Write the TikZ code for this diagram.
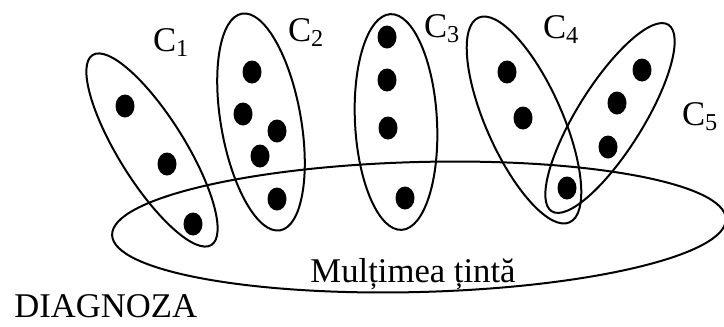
\documentclass[tikz,border=0pt]{standalone}
\usepackage{fontspec}
\setmainfont{Liberation Serif}
\usepackage{tikz}

\tikzset{
  clus/.style={line width=1.5pt},
  dotmark/.style={fill=black},
  lbl/.style={inner sep=0pt, font=\fontsize{26}{30}\selectfont}
}

\begin{document}
\begin{tikzpicture}[x=0.75pt,y=0.75pt,yscale=-1,xscale=1]
\useasboundingbox (0,0) rectangle (724,326);

%Shape: target set
\draw[clus, rotate around={-1.5:(419,227)}] (419,227) ellipse [x radius=307, y radius=65];

%Shape: clusters C1..C5
\draw[clus, rotate around={58:(152,150)}] (152,150) ellipse [x radius=112, y radius=33];
\draw[clus, rotate around={80:(261,122)}] (261,122) ellipse [x radius=110, y radius=40];
\draw[clus, rotate around={87:(396,122)}] (396,122) ellipse [x radius=108, y radius=41];
\draw[clus, rotate around={66:(524,120)}] (524,120) ellipse [x radius=112, y radius=38];
\draw[clus, rotate around={-58:(610,118)}] (610,118) ellipse [x radius=110, y radius=33];

%Shape: elements
\foreach \px/\py in {125/106,167/164,193/224,
                     252/72,243/114,277/131,260/156,277/199,
                     387/37,387/80,388/128,405/198,
                     507/72,523/118,567/188,
                     642/70,617/103,608/147}
  \fill[dotmark] (\px,\py) ellipse [x radius=9.5, y radius=11.5];

% Text Node
\node[lbl] (c1) at (171,43) {C\textsubscript{1}};
\node[lbl] (c2) at (306,33) {C\textsubscript{2}};
\node[lbl] (c3) at (442,29) {C\textsubscript{3}};
\node[lbl] (c4) at (561,30) {C\textsubscript{4}};
\node[lbl] (c5) at (700,117) {C\textsubscript{5}};
% Text Node
\node[lbl, anchor=base] (tinta) at (413,282) {Mulțimea țintă};
% Text Node
\node[lbl, anchor=base west] (diag) at (14,317) {DIAGNOZA};

\end{tikzpicture}
\end{document}
